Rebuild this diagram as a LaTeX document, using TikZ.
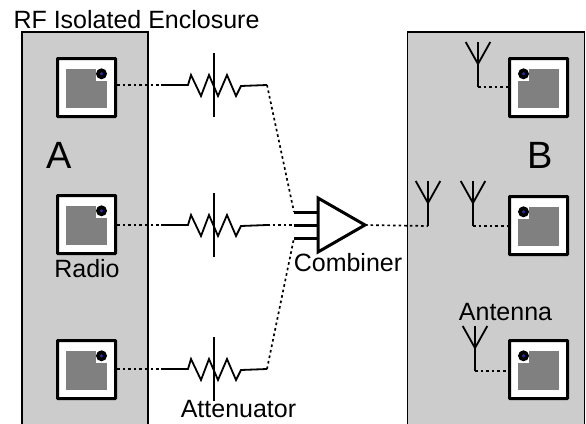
\documentclass[tikz,border=0pt]{standalone}
\usepackage{fontspec}
\setmainfont{Liberation Sans}
\usetikzlibrary{positioning,shapes.geometric}
\definecolor{enclosure}{HTML}{CCCCCC}
\definecolor{chip}{HTML}{808080}
\definecolor{led}{HTML}{2A2A9A}
\tikzset{
  enclosure/.style={draw,fill=enclosure,line width=1.6pt,minimum height=420pt,inner sep=0pt},
  radiobox/.style={draw,fill=white,line width=3pt,rounded corners=0.5pt,minimum size=58pt,inner sep=0pt},
  link/.style={line width=1.7pt,dash pattern=on 2.6pt off 3pt},
  label/.style={font=\fontsize{25}{25}\selectfont,inner sep=0pt,anchor=base},
  letter/.style={font=\fontsize{38}{38}\selectfont,inner sep=0pt,anchor=base},
  radio/.pic={
    \node (-box) [radiobox] at (0,0) {};
    \fill [chip] (-20.5,-19) rectangle (20.5,20);
    \fill [white] (9.8,-19) rectangle (20.5,-7);
    \fill (15,-13.7) circle (5.5pt);
    \fill [led] (15,-13.7) circle (1.8pt);
  },
  attenuator/.pic={
    \coordinate (-in) at (-53,0);
    \coordinate (-out) at (53,0);
    \draw [line width=1.8pt] (-in) -- (-26,0) -- (-23,-10) -- (-13,11) -- (-5,-10) -- (4,11) -- (13,-10) -- (22,11) -- (27,1) -- (-out);
    \draw [line width=1.8pt] (0,-32) -- (0,32);
  },
  antenna/.pic={
    \coordinate (-foot) at (0,0);
    \draw [line width=1.8pt] (-foot) -- (0,-45);
    \draw [line width=1.8pt] (-12.3,-45) -- (0,-23) -- (12.3,-45);
  }
}
\begin{document}
\begin{tikzpicture}[x=1pt,y=-1pt,on grid]
\useasboundingbox (0,0) rectangle (586,423);
\node [enclosure,minimum width=126pt] (enc_a) at (85,242) {};
\node [enclosure,minimum width=177pt] (enc_b) at (496,242) {};
\node [label] (enc_label) at (136.5,28) {RF Isolated Enclosure};
\node [letter] (a_label) at (59.5,168) {A};
\node [letter] (b_label) at (540,168) {B};
\coordinate (p_1) at (86.5,87.5);
\coordinate [below = 137pt of p_1] (p_2);
\coordinate [below = 145pt of p_2] (p_3);
\coordinate [right = 452pt of p_1] (q_1);
\coordinate [below = 138pt of q_1] (q_2);
\coordinate [below = 144pt of q_2] (q_3);
\pic (r_1) at (p_1) {radio};
\pic (r_2) at (p_2) {radio};
\pic (r_3) at (p_3) {radio};
\pic (s_1) [xscale=-1] at (q_1) {radio};
\pic (s_2) [xscale=-1] at (q_2) {radio};
\pic (s_3) [xscale=-1] at (q_3) {radio};
\node [label] (radio_label) at (87,277) {Radio};
\pic (t_1) at (214,85) {attenuator};
\pic (t_2) at (214,225) {attenuator};
\pic (t_3) at (214,369) {attenuator};
\node [label] (att_label) at (238.5,417) {Attenuator};
\node [draw,fill=white,line width=3pt,isosceles triangle,isosceles triangle apex angle=60,isosceles triangle stretches,minimum width=54pt,minimum height=47pt,inner sep=0pt,outer sep=0pt,anchor=apex] (comb) at (365,225) {};
\node [label] (comb_label) at (348,271) {Combiner};
\coordinate (i_1) at (294,212);
\coordinate (i_2) at (294,225);
\coordinate (i_3) at (294,238);
\draw [line width=3pt] (i_1) -- (i_1 -| comb.lower side);
\draw [line width=3pt] (i_2) -- (i_2 -| comb.lower side);
\draw [line width=3pt] (i_3) -- (i_3 -| comb.lower side);
\pic (u_1) at (478,87) {antenna};
\pic (u_2) at (473,226) {antenna};
\pic (u_3) at (475,371) {antenna};
\pic (u_4) at (428,226) {antenna};
\node [label] (ant_label) at (505.5,320) {Antenna};
\path [link]
(t_1-in -| r_1-box.east) edge (t_1-in)
(t_2-in -| r_2-box.east) edge (t_2-in)
(t_3-in -| r_3-box.east) edge (t_3-in)
(t_1-out) edge (i_1)
(t_2-out) edge (i_2)
(t_3-out) edge (i_3)
(comb.apex) edge (u_4-foot)
(u_1-foot) edge (u_1-foot -| s_1-box.west)
(u_2-foot) edge (u_2-foot -| s_2-box.west)
(u_3-foot) edge (u_3-foot -| s_3-box.west);
\end{tikzpicture}
\end{document}
